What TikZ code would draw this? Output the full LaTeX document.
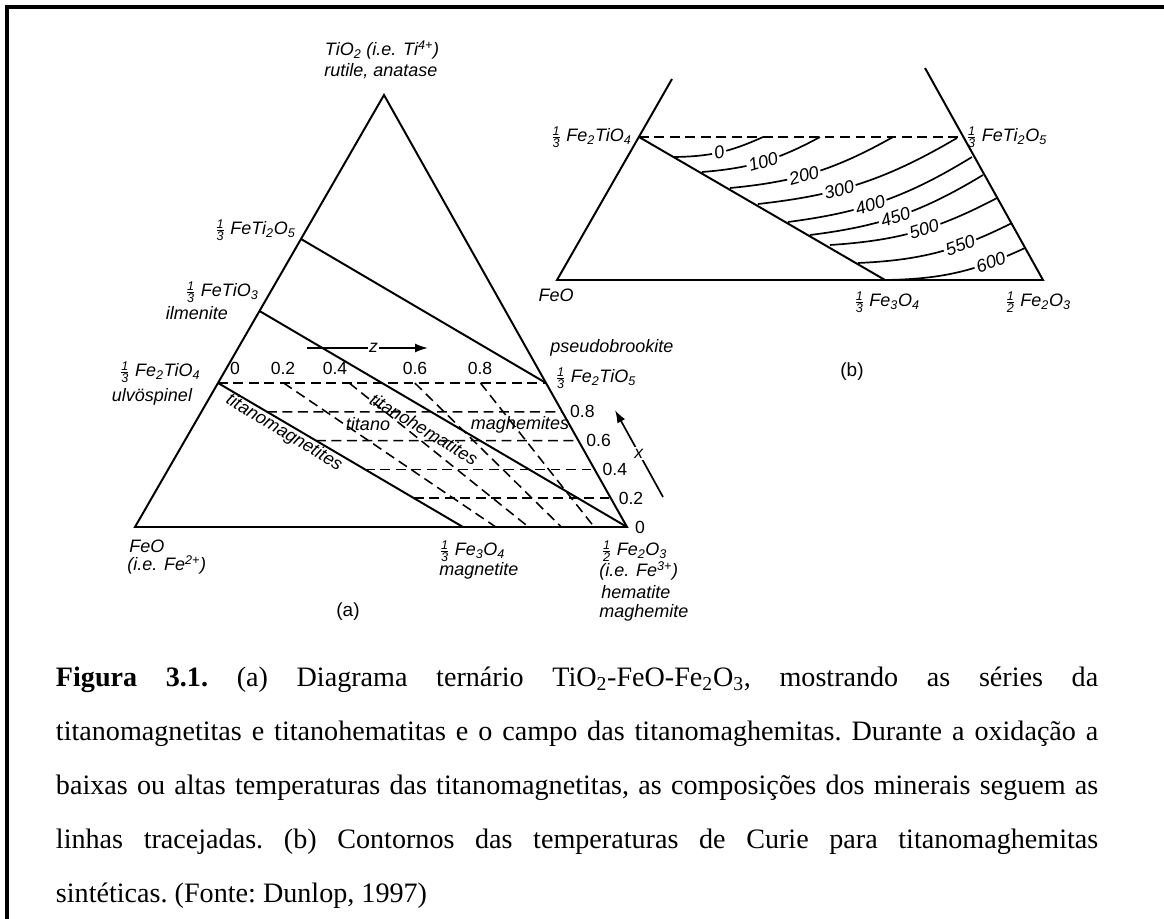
\documentclass[tikz,border=0pt]{standalone}
\usepackage{amsmath}
\usepackage{fontspec}
\setmainfont{Liberation Serif}
\newfontfamily\lbl{Liberation Sans}
\usetikzlibrary{arrows.meta, calc}
\newcommand{\fr}[2]{$\genfrac{}{}{0.5pt}{1}{\textit{#1}}{\textit{#2}}$}

\begin{document}
\begin{tikzpicture}[
		x=0.025cm, y=-0.025cm,
		line width=1.4pt,
		>={Latex[length=3.2mm, width=2.2mm]},
		lab/.style={font=\lbl\itshape\fontsize{12.8}{14}\selectfont, inner sep=1pt},
		num/.style={font=\lbl\fontsize{12.5}{14}\selectfont, inner sep=1pt},
		dline/.style={line width=1.1pt, dash pattern=on 7pt off 4pt},
		cnum/.style={lab, sloped, fill=white, inner sep=1.5pt},
		tag/.style={font=\lbl\fontsize{13.5}{15}\selectfont, inner sep=1pt}
		]
		\useasboundingbox (0,0) rectangle (1164,919);
		
		%--- frame -----------------------------------------------------------------
		\draw[line width=2.4pt] (1164,7) -- (7,7) -- (7,919);
		
		%--- triangle (a) ----------------------------------------------------------
		\coordinate (A) at (384,95);
		\coordinate (F) at (135,527);
		\coordinate (H) at (627,527);
		\coordinate (M) at ($(F)!2/3!(H)$);
		\coordinate (U) at ($(A)!2/3!(F)$);
		\coordinate (I) at ($(A)!1/2!(F)$);
		\coordinate (P) at ($(A)!1/3!(F)$);
		\coordinate (R) at ($(A)!2/3!(H)$);
		
		\draw (A) -- (F) -- (H) -- cycle;
		\draw (P) -- (R);
		\draw (I) -- (H);
		\draw (U) -- (M);
		
		%--- oxidation lines (x and z) ---------------------------------------------
		\draw[dline] (U) -- (R);
		\foreach \x in {0.2,0.4,0.6,0.8}
		\draw[dline] ($(M)!\x!(U)$) -- ($(H)!\x!(R)$);
		\foreach \z in {0.2,0.4,0.6,0.8}
		\draw[dline] ($(U)!\z!(R)$) -- ($(M)!\z!(H)$);
		
		\foreach \z/\px [count=\i] in {0/235,0.2/283,0.4/335,0.6/415,0.8/480}
		\node[num] (zl\i) at (\px,368) {\z};
		\foreach \x [count=\i] in {0,0.2,0.4,0.6,0.8}
		\node[num, anchor=west, xshift=4pt] (xl\i) at ($(H)!\x!(R)$) {\x};
		
		\coordinate (zs) at (307,348);
		\coordinate (ze) at (428,348);
		\draw[->, line width=1.2pt] (zs) -- node[num, fill=white, pos=0.55] (zlab) {\textit{z}} (ze);
		\coordinate (xs) at (663,497);
		\coordinate (xe) at (615,410);
		\draw[->, line width=1.2pt] (xs) -- node[num, fill=white] (xlab) {\textit{x}} (xe);
		
		%--- labels (a) ------------------------------------------------------------
		\node[lab] (ti1) at (382,50) {TiO\textsubscript{2} (i.e. Ti\textsuperscript{4+})};
		\node[lab] (ti2) at (381,71) {rutile, anatase};
		\node[lab, anchor=east] (pfb) at (298,230) {\fr13 FeTi\textsubscript{2}O\textsubscript{5}};
		\node[lab] (ilm1) at (222,292) {\fr13 FeTiO\textsubscript{3}};
		\node[lab] (ilm2) at (197,313) {ilmenite};
		\node[lab] (usp1) at (160,372) {\fr13 Fe\textsubscript{2}TiO\textsubscript{4}};
		\node[lab] (usp2) at (152,397) {ulvöspinel};
		\node[lab, anchor=west] (psb1) at (548,348) {pseudobrookite};
		\node[lab, anchor=west] (psb2) at (553,378) {\fr13 Fe\textsubscript{2}TiO\textsubscript{5}};
		\node[lab, anchor=west] (wus1) at (127,546) {FeO};
		\node[lab, anchor=west] (wus2) at (125,565) {(i.e. Fe\textsuperscript{2+})};
		\node[lab, anchor=west] (mag1) at (437,551) {\fr13 Fe\textsubscript{3}O\textsubscript{4}};
		\node[lab, anchor=west] (mag2) at (437,571) {magnetite};
		\node[lab, anchor=west] (hem1) at (599,551) {\fr12 Fe\textsubscript{2}O\textsubscript{3}};
		\node[lab, anchor=west] (hem2) at (597,571) {(i.e. Fe\textsuperscript{3+})};
		\node[lab, anchor=west] (hem3) at (599,592) {hematite};
		\node[lab, anchor=west] (hem4) at (597,613) {maghemite};
		\node[lab, rotate=-31] (tmg) at (284,433) {titanomagnetites};
		\node[lab, rotate=-31] (thm) at (424,429) {titanohematites};
		\node[lab] (tmh1) at (368,424) {titano};
		\node[lab] (tmh2) at (520,425) {maghemites};
		\node[tag] (capa) at (348,612) {(a)};
		
		%--- triangle (b): Curie temperatures --------------------------------------
		\coordinate (bF) at (557,280);
		\coordinate (bH) at (1043,280);
		\coordinate (bM) at (885,280);
		\coordinate (bLt) at (672,79);
		\coordinate (bRt) at (925,68);
		\coordinate (bU) at (639,137);
		\coordinate (bR) at (963,137);
		
		\draw (bLt) -- (bF) -- (bH) -- (bRt);
		\draw (bU) -- (bM);
		\draw[dline] (bU) -- (bR);
		
		\foreach \t/\lx/\ly/\rx/\ry/\p [count=\i] in {
			0/673/157/763/137/0.5, 100/702/172/820/137/0.5,
			200/730/188/893/137/0.43, 300/758/204/957/138/0.38,
			400/788/222/972/157/0.42, 450/810/235/983/175/0.47,
			500/830/245/997/198/0.55, 550/858/263/1012/223/0.66,
			600/885/280/1025/248/0.76}
		\draw[line width=1.2pt] (\lx,\ly) to[bend right=12] node[cnum, pos=\p] (tc\i) {\t} (\rx,\ry);
		
		\node[lab, anchor=east] (bul) at (634,137) {\fr13 Fe\textsubscript{2}TiO\textsubscript{4}};
		\node[lab, anchor=west] (bps) at (964,137) {\fr13 FeTi\textsubscript{2}O\textsubscript{5}};
		\node[lab] (bwu) at (556,295) {FeO};
		\node[lab] (bmg) at (887,302) {\fr13 Fe\textsubscript{3}O\textsubscript{4}};
		\node[lab] (bhm) at (1038,302) {\fr12 Fe\textsubscript{2}O\textsubscript{3}};
		\node[tag] (capb) at (852,372) {(b)};
		
		%--- caption ---------------------------------------------------------------
		\node[anchor=base west, text width=26.05cm, align=justify, inner sep=0pt,
		font=\fontsize{20}{38.5}\selectfont\frenchspacing] (cap) at (55,686)
		{\textbf{Figura 3.1.} (a) Diagrama ternário TiO\textsubscript{2}-FeO-Fe\textsubscript{2}O\textsubscript{3}, mostrando as séries da\linebreak
			titanomagnetitas e titanohematitas e o campo das titanomaghemitas. Durante a oxidação a\linebreak
			baixas ou altas temperaturas das titanomagnetitas, as composições dos minerais seguem as\linebreak
			linhas tracejadas. (b) Contornos das temperaturas de Curie para titanomaghemitas\linebreak
			sintéticas. (Fonte: Dunlop, 1997)};
	\end{tikzpicture}
\end{document}
